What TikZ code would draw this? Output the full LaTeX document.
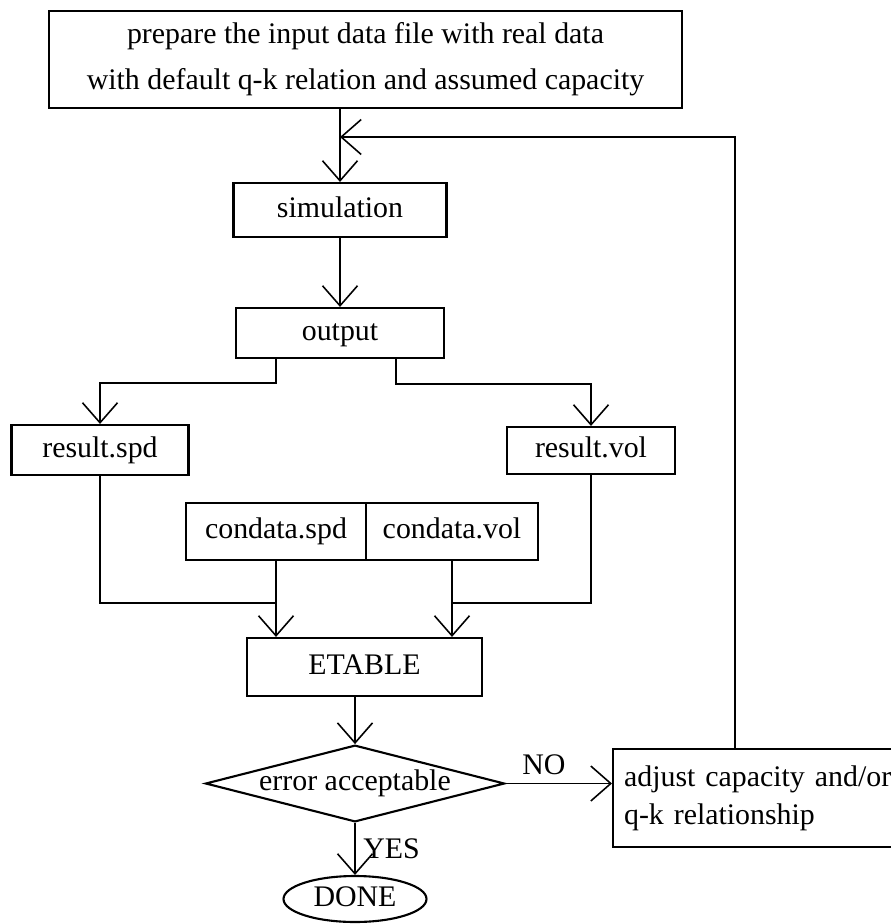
\documentclass[tikz,border=0pt]{standalone}
\usepackage{fontspec}
\setmainfont{Liberation Serif}
\usetikzlibrary{arrows.meta, positioning, calc, shapes.geometric}

\begin{document}
\begin{tikzpicture}[
  >={Straight Barb[length=4mm, width=7mm]},
  arr/.style={->, line width=0.9pt},
  font=\fontsize{17}{20}\selectfont,
]

% =============================================
% Box styles
% =============================================
\tikzset{
  stepbox/.style 2 args={
    draw, line width=1.2pt, minimum width=#1, minimum height=#2,
    inner sep=0pt, align=center, text height=12pt, text depth=3.7pt,
  },
  testbox/.style={
    draw, diamond, aspect=3.9, line width=1.2pt, inner sep=0pt,
    minimum width=5.9cm, minimum height=1.5cm,
    text height=12pt, text depth=3.7pt,
  },
  endbox/.style={
    draw, ellipse, line width=1.2pt, inner sep=0pt,
    minimum width=2.86cm, minimum height=0.92cm,
    text height=12pt, text depth=3.7pt,
  },
}

% =============================================
% Page frame
% =============================================
\useasboundingbox (0,0) rectangle (17.8,-18.48);

% =============================================
% Main column
% =============================================
\node[draw, line width=1.2pt, minimum width=12.66cm, minimum height=1.94cm,
      align=center, inner sep=0pt] (prep) at (7.31,-1.19)
  {prepare the input data file with real data\\[6pt]
   with default q-k relation and assumed capacity};

\node[stepbox={4.26cm}{1.08cm}] (sim) at (6.8,-4.2) {simulation};
\node[stepbox={4.16cm}{1.0cm}] (out) at (6.8,-6.66) {output};

% =============================================
% Result files and condata pair
% =============================================
\node[stepbox={3.54cm}{1.0cm}] (rspd) at (2.0,-9.0) {result.spd};
\node[stepbox={3.36cm}{0.94cm}] (rvol) at (11.82,-9.01) {result.vol};

\node[stepbox={3.6cm}{1.14cm}] (cspd) at (5.52,-10.63) {condata.spd};
\node[stepbox={3.44cm}{1.14cm}] (cvol) at (9.04,-10.63) {condata.vol};

\node[stepbox={4.7cm}{1.16cm}] (etab) at (7.29,-13.34) {ETABLE};

% =============================================
% Decision, end, and correction step
% =============================================
\node[testbox] (dec) at (7.1,-15.67) {error acceptable};
\node[endbox] (done) at (7.1,-17.98) {DONE};

\node[draw, line width=1.2pt, text width=5.8cm, align=left,
      inner xsep=0.22cm, minimum height=1.96cm, anchor=west] (adj) at (12.24,-15.96)
  {adjust capacity and/or\\[1.5pt]
   q-k relationship};

% =============================================
% Connectors
% =============================================
\coordinate (join) at (6.8,-2.74);
\coordinate (loopx) at (14.7,-2.74);

\draw[arr] (prep.south -| join) -- (sim.north);
\draw[arr] (sim) -- (out);

\draw[arr] (out.south -| cspd.south) -- ++(0,-0.48) -| (rspd.north);
\draw[arr] ($(out.south)+(1.12,0)$) -- ++(0,-0.5) -| (rvol.north);

\coordinate (mrgl) at ($(cspd.south)!0.55!(cspd.south |- etab.north)$);
\coordinate (mrgr) at ($(cvol.south)!0.55!(cvol.south |- etab.north)$);
\draw[line width=0.9pt] (rspd.south) |- (mrgl);
\draw[line width=0.9pt] (rvol.south) |- (mrgr);
\draw[arr] (cspd.south) -- (cspd.south |- etab.north);
\draw[arr] (cvol.south) -- (cvol.south |- etab.north);

\draw[arr] (etab.south -| dec.north) -- (dec.north);
\draw[arr] (dec) -- (done)
  node[midway, right=1pt] {YES};
\draw[arr] (dec.east) -- (dec.east -| adj.west)
  node[pos=0.36, above=1pt] {NO};

% loop back to the simulation step
\draw[arr] (adj.north -| loopx) -- (loopx) -- (join);

\end{tikzpicture}
\end{document}
